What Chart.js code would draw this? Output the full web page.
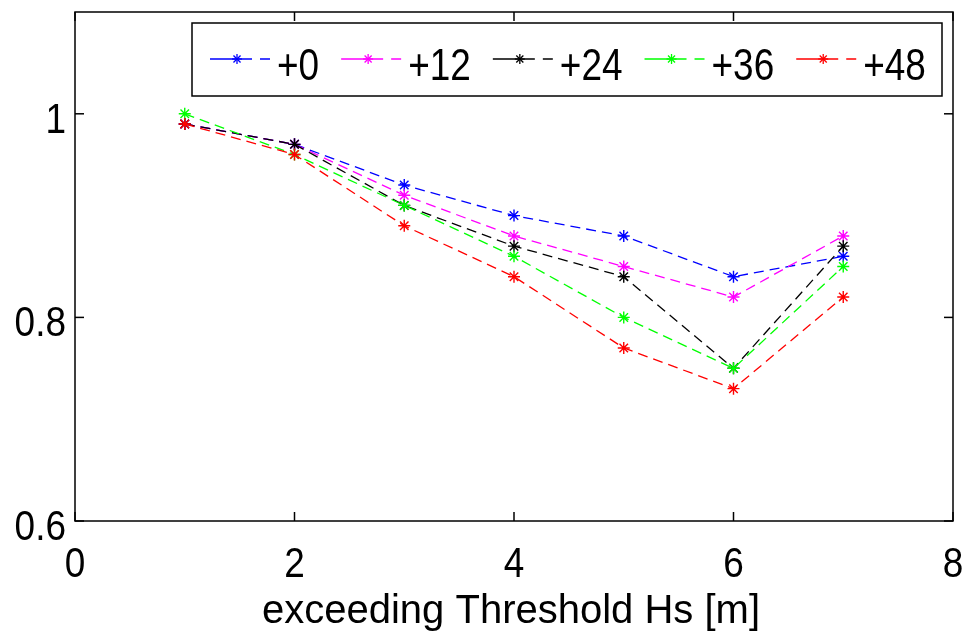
<!DOCTYPE html>
<html><head><meta charset="utf-8">
<script src="https://cdn.jsdelivr.net/npm/chart.js@4/dist/chart.umd.min.js"></script>
<style>html,body{margin:0;padding:0;background:#fff}canvas{display:block}</style>
</head><body>
<div style="width:965px;height:636px;position:relative"><canvas id="c"></canvas></div>
<script>
const thresholds = [1, 2, 3, 4, 5, 6, 7];
const seriesLabels = ['+0', '+12', '+24', '+36', '+48'];
const lead0  = [0.99, 0.97, 0.93, 0.90, 0.88, 0.84, 0.86];
const lead12 = [0.99, 0.97, 0.92, 0.88, 0.85, 0.82, 0.88];
const lead24 = [0.99, 0.97, 0.91, 0.87, 0.84, 0.75, 0.87];
const lead36 = [1.00, 0.96, 0.91, 0.86, 0.80, 0.75, 0.85];
const lead48 = [0.99, 0.96, 0.89, 0.84, 0.77, 0.73, 0.82];
const xTicks = [0, 2, 4, 6, 8];
const yTicks = [0.6, 0.8, 1];
const xTitle = 'exceeding Threshold Hs [m]';

const seriesValues = [lead0, lead12, lead24, lead36, lead48];
const colors = ['#0000ff', '#ff00ff', '#000000', '#00ff00', '#ff0000'];
const FONT = '"Liberation Sans", Arial, Helvetica, sans-serif';

function drawText(ctx, text, x, y, size, align, sx) {
  ctx.save();
  ctx.font = size + 'px ' + FONT;
  const w = ctx.measureText(text).width * sx;
  const left = align === 'center' ? x - w / 2 : (align === 'right' ? x - w : x);
  ctx.translate(left, y);
  ctx.scale(sx, 1);
  ctx.textAlign = 'left';
  ctx.textBaseline = 'alphabetic';
  ctx.fillStyle = '#000';
  ctx.fillText(text, 0, 0);
  ctx.restore();
  return w;
}
function seg(ctx, x1, y1, x2, y2) { ctx.beginPath(); ctx.moveTo(x1, y1); ctx.lineTo(x2, y2); ctx.stroke(); }
function star(ctx, x, y, r, color, lw) {
  ctx.save();
  ctx.strokeStyle = color; ctx.lineWidth = lw; ctx.setLineDash([]);
  const d = r * Math.SQRT1_2;
  seg(ctx, x - r, y, x + r, y); seg(ctx, x, y - r, x, y + r);
  seg(ctx, x - d, y - d, x + d, y + d); seg(ctx, x - d, y + d, x + d, y - d);
  ctx.restore();
}

const axesPlugin = {
  id: 'matlabAxes',
  afterDraw(chart) {
    const ctx = chart.ctx;
    const { left, right, top, bottom } = chart.chartArea;
    const xs = chart.scales.x, ys = chart.scales.y;
    ctx.save();
    ctx.strokeStyle = '#000'; ctx.lineWidth = 1.5; ctx.setLineDash([]);
    ctx.strokeRect(left, top, right - left, bottom - top);
    const tl = 9;
    xTicks.forEach(v => {
      const px = xs.getPixelForValue(v);
      seg(ctx, px, bottom, px, bottom - tl);
      seg(ctx, px, top, px, top + tl);
      drawText(ctx, String(v), px, bottom + 56, 42, 'center', 0.88);
    });
    yTicks.forEach(v => {
      const py = ys.getPixelForValue(v);
      seg(ctx, left, py, left + tl, py);
      seg(ctx, right, py, right - tl, py);
      drawText(ctx, String(v), left - 9, py + 19, 42, 'right', 0.88);
    });
    drawText(ctx, xTitle, (left + right) / 2 - 3, 623, 40, 'center', 1);

    // legend
    const bx = 192, by = 23, bw = 750, bh = 73;
    ctx.fillStyle = '#fff';
    ctx.fillRect(bx, by, bw, bh);
    ctx.lineWidth = 1.5;
    ctx.strokeStyle = '#000';
    ctx.strokeRect(bx, by, bw, bh);
    let L = 210;
    const ly = 59;
    chart.data.datasets.forEach(ds => {
      ctx.save();
      ctx.strokeStyle = ds.borderColor; ctx.lineWidth = 1.4;
      ctx.setLineDash([42, 8, 10, 20]);
      seg(ctx, L, ly, L + 60, ly);
      ctx.restore();
      star(ctx, L + 27, ly, 5, ds.borderColor, 1.3);
      const w = drawText(ctx, ds.label, L + 67, 80, 44, 'left', 0.84);
      L = L + 67 + w + 22;
    });
    ctx.restore();
  }
};

const datasets = seriesLabels.map((lab, i) => ({
  label: lab,
  data: thresholds.map((t, j) => ({ x: t, y: seriesValues[i][j] })),
  borderColor: colors[i],
  backgroundColor: colors[i],
  borderWidth: 1.3,
  borderDash: [10, 6],
  pointStyle: 'star',
  pointRadius: 6,
  pointBorderWidth: 1.4,
  pointBorderColor: colors[i],
  tension: 0,
  fill: false,
  order: seriesLabels.length - i
}));

new Chart(document.getElementById('c'), {
  type: 'line',
  data: { datasets },
  options: {
    responsive: true,
    maintainAspectRatio: false,
    animation: false,
    layout: { padding: { left: 75, top: 12, right: 12, bottom: 115 } },
    scales: {
      x: { type: 'linear', display: false, min: 0, max: 8 },
      y: { type: 'linear', display: false, min: 0.6, max: 1.1 }
    },
    plugins: { legend: { display: false }, tooltip: { enabled: false } }
  },
  plugins: [axesPlugin]
});
</script>
</body></html>
